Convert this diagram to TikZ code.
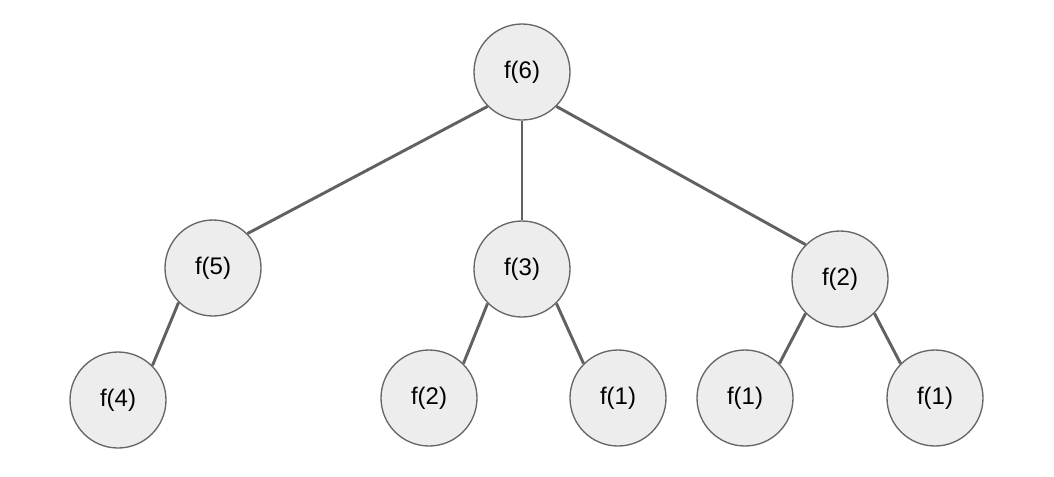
\documentclass[tikz,border=0pt]{standalone}
\usepackage{fontspec}
\setmainfont{Liberation Sans}
\begin{document}
\begin{tikzpicture}[x=0.75pt,y=-0.75pt,
    call/.style={circle,draw=black!60,fill=black!7,line width=1pt,minimum size=72pt,inner sep=0pt,font=\fontsize{18}{21}\selectfont},
    edge/.style={draw=black!62,line width=2.2pt}]
    \useasboundingbox (0,0) rectangle (1054,476);
    \node[call](a) at (522,72)  {f(6)};
    \node[call](b) at (213,268)  {f(5)};
    \node[call](c) at (522,269)  {f(3)};
    \node[call](d) at (840,279)  {f(2)};
    \node[call](e) at (118,400)  {f(4)};
    \node[call](g) at (429,398)  {f(2)};
    \node[call](h) at (618,398)  {f(1)};
    \node[call](k) at (745,398)  {f(1)};
    \node[call](l) at (935,398)  {f(1)};
    \draw[edge] (a.225) to (b.45);
    \draw[edge] (a.south) to (c.north);
    \draw[edge] (a.315) to (d.135);
    \draw[edge] (b.225) to (e.45);
    \draw[edge] (c.225) to (g.45);
    \draw[edge] (c.315) to (h.135);
    \draw[edge] (d.225) to (k.45);
    \draw[edge] (d.315) to (l.135);
    \end{tikzpicture}
\end{document}
